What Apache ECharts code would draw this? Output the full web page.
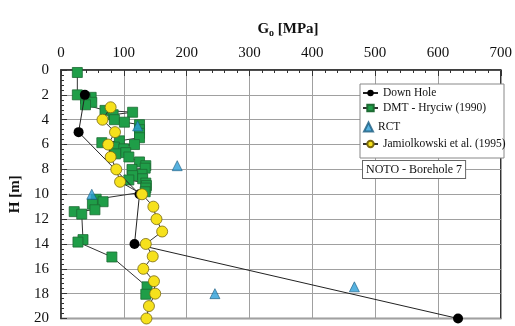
<!DOCTYPE html>
<html>
<head>
<meta charset="utf-8">
<script src="https://cdn.jsdelivr.net/npm/echarts@6/dist/echarts.min.js"></script>
<style>html,body{margin:0;padding:0;background:#fff}#c{width:515px;height:326px}</style>
</head>
<body>
<div id="c"></div>
<script>
// Values: [G0 (MPa), H (m)]
var downHole = [[38,2],[28,5],[125,10],[117,14],[632,20]];
var dmt = [[26,0.2],[26,2.0],[48,2.2],[39,2.3],[49,2.6],[39,2.8],[70,3.25],[114,3.4],[83,3.6],[85,4.0],[101,4.2],[125,4.4],[125,4.8],[125,5.1],[125,5.45],[93,5.7],[65,5.85],[117,6.0],[85,6.2],[100,6.35],[103,6.65],[87,6.75],[108,7.0],[125,7.4],[135,7.7],[134,7.9],[113,8.0],[129,8.4],[114,8.5],[130,8.75],[108,8.85],[135,9.1],[136,9.3],[135,9.5],[134,9.8],[56,10.4],[67,10.6],[50,10.8],[54,11.25],[21,11.4],[33,11.6],[35,13.65],[27,13.85],[81,15.05],[137,17.45],[135,18.05]];
var rct = [[122,4.5],[185,7.7],[49,10.0],[467,17.45],[245,18.0]];
var jamH = [3,4,5,6,7,8,9,10,11,12,13,14,15,16,17,18,19,20];
var jamG = [79,66,86,75,79,88,94,129,147,152,161,135,146,131,148,150,140,136];
var xTicks = {min:0, max:700, interval:100};
var yTicks = {min:0, max:20, interval:2};

var jam = jamH.map(function(h,i){return [jamG[i],h];});
var serif = '"Liberation Serif","Times New Roman",serif';
var legText = {fontFamily:serif, fontSize:11.5, color:'#111'};
var chart = echarts.init(document.getElementById('c'));
chart.setOption({
  animation:false,
  backgroundColor:'#fff',
  title:{
    text:'{g|G}{s|o}{g| [MPa]}',
    left:283, top:15, textAlign:'center',
    textStyle:{rich:{g:{fontFamily:serif,fontWeight:'bold',fontSize:15,color:'#111'},s:{fontFamily:serif,fontWeight:'bold',fontSize:10,color:'#111',padding:[8,0,0,0]}}}
  },
  grid:{left:61, right:10, top:70, bottom:6, show:true, borderColor:'#333', borderWidth:1.5},
  xAxis:{type:'value', position:'top', min:xTicks.min, max:xTicks.max, interval:xTicks.interval,
    axisLine:{show:true, lineStyle:{color:'#333', width:1.5}},
    axisTick:{show:true, inside:true, length:6, lineStyle:{color:'#333'}},
    minorTick:{show:true, splitNumber:5, length:3, lineStyle:{color:'#333'}},
    axisLabel:{fontFamily:serif, fontSize:15, color:'#111', margin:9},
    splitLine:{show:true, lineStyle:{color:'#a0a0a0', width:1}}},
  yAxis:{type:'value', inverse:true, min:yTicks.min, max:yTicks.max, interval:yTicks.interval,
    name:'H [m]', nameLocation:'middle', nameGap:36, nameRotate:90,
    nameTextStyle:{fontFamily:serif, fontWeight:'bold', fontSize:15, color:'#111'},
    axisLine:{show:true, lineStyle:{color:'#333', width:1.5}},
    axisTick:{show:true, inside:true, length:6, lineStyle:{color:'#333'}},
    minorTick:{show:true, splitNumber:5, length:3, lineStyle:{color:'#333'}},
    axisLabel:{fontFamily:serif, fontSize:15, color:'#111', margin:12},
    splitLine:{show:true, lineStyle:{color:'#a0a0a0', width:1}}},
  legend:[
    {orient:'vertical', left:362, top:87, itemWidth:15, itemHeight:8, itemGap:3, padding:0,
      textStyle:legText, data:['Down Hole','DMT - Hryciw (1990)'], z:10},
    {orient:'vertical', left:363, top:121, itemWidth:9, itemHeight:9, padding:0,
      textStyle:legText, data:['RCT'], z:10},
    {orient:'vertical', left:362, top:138, itemWidth:15, itemHeight:8, padding:0,
      textStyle:legText, data:['Jamiolkowski et al. (1995)'], z:10}
  ],
  graphic:[
    {type:'rect', z:1, shape:{x:360, y:84, width:144, height:74}, style:{fill:'#fff', stroke:'#888', lineWidth:1}},
    {type:'text', z:60, left:362, top:160, style:{text:'NOTO - Borehole 7', font:'12px '+serif, fill:'#111',
      backgroundColor:'#fff', borderColor:'#666', borderWidth:1, padding:[3,3,2,3]}}
  ],
  series:[
    {name:'DMT - Hryciw (1990)', type:'line', data:dmt, symbol:'rect', symbolSize:10,
      lineStyle:{color:'#333', width:1}, itemStyle:{color:'#1f9e48', borderColor:'#1d6b33', borderWidth:0.8}, z:2},
    {name:'Down Hole', type:'line', data:downHole, symbol:'circle', symbolSize:10,
      lineStyle:{color:'#222', width:1}, itemStyle:{color:'#000'}, z:3},
    {name:'Jamiolkowski et al. (1995)', type:'line', data:jam, symbol:'circle', symbolSize:11,
      lineStyle:{color:'#333', width:1}, itemStyle:{color:'#f6e11c', borderColor:'#7a6a10', borderWidth:0.8}, z:4},
    {name:'RCT', type:'scatter', data:rct, symbol:'triangle', symbolSize:10,
      itemStyle:{color:'#2c9fd8', borderColor:'#1b5c80', borderWidth:0.8}, z:5}
  ]
});
</script>
</body>
</html>
